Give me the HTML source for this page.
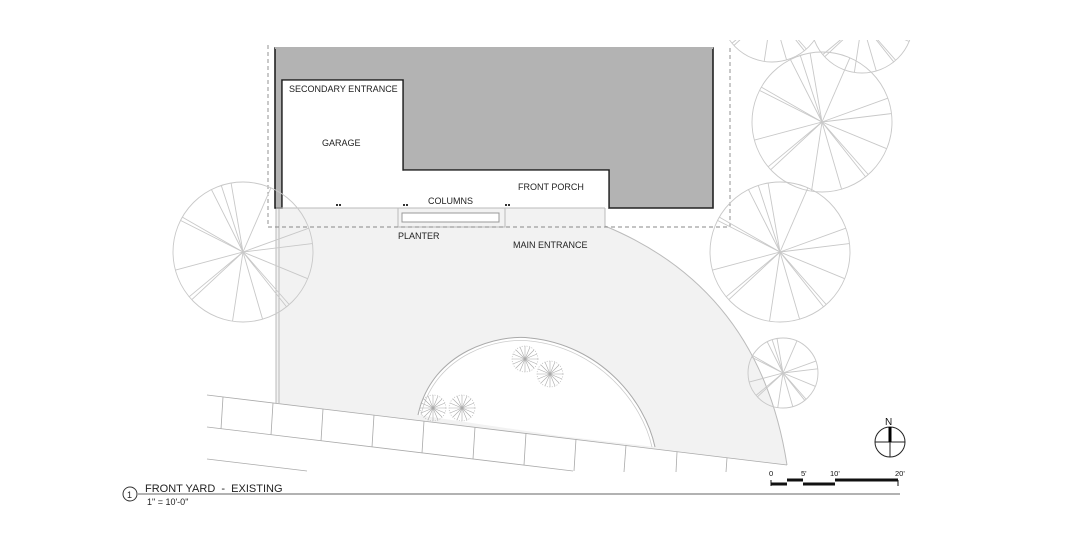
<!DOCTYPE html>
<html><head><meta charset="utf-8"><style>
html,body{margin:0;padding:0;background:#fff;}
svg{display:block;font-family:"Liberation Sans",Arial,sans-serif;}
.v{vector-effect:non-scaling-stroke;}
</style></head><body>
<svg width="1080" height="560" viewBox="0 0 1080 560" xmlns="http://www.w3.org/2000/svg">
<defs>
<g id="sp" stroke="#c8c8c8" stroke-width="0.9" fill="none">
<circle class="v" r="1" cx="0" cy="0" fill="none"/>
<line class="v" x1="0" y1="0" x2="-0.17" y2="-0.985"/>
<line class="v" x1="0" y1="0" x2="-0.31" y2="-0.95"/>
<line class="v" x1="0" y1="0" x2="-0.45" y2="-0.89"/>
<line class="v" x1="0" y1="0" x2="-0.87" y2="-0.5"/>
<line class="v" x1="0" y1="0" x2="-0.89" y2="-0.45"/>
<line class="v" x1="0" y1="0" x2="-0.97" y2="0.26"/>
<line class="v" x1="0" y1="0" x2="-0.77" y2="0.64"/>
<line class="v" x1="0" y1="0" x2="-0.73" y2="0.68"/>
<line class="v" x1="0" y1="0" x2="-0.15" y2="0.99"/>
<line class="v" x1="0" y1="0" x2="0.28" y2="0.96"/>
<line class="v" x1="0" y1="0" x2="0.62" y2="0.78"/>
<line class="v" x1="0" y1="0" x2="0.66" y2="0.75"/>
<line class="v" x1="0" y1="0" x2="0.92" y2="0.38"/>
<line class="v" x1="0" y1="0" x2="0.99" y2="-0.12"/>
<line class="v" x1="0" y1="0" x2="0.94" y2="-0.34"/>
<line class="v" x1="0" y1="0" x2="0.4" y2="-0.92"/>
</g>
<g id="sh" stroke="#aaa" stroke-width="0.6">
<line x1="-13" y1="0" x2="13" y2="0"/><line x1="0" y1="-13" x2="0" y2="13"/>
<line x1="-9" y1="-9" x2="9" y2="9"/><line x1="-9" y1="9" x2="9" y2="-9"/>
<line x1="-12" y1="-5" x2="12" y2="5"/><line x1="-12" y1="5" x2="12" y2="-5"/>
<line x1="-5" y1="-12" x2="5" y2="12"/><line x1="-5" y1="12" x2="5" y2="-12"/>
<circle r="13" fill="none" stroke-dasharray="1 1.5"/>
</g>
</defs>

<path d="M276,208 L605,208 L605,226 Q760,290 787,465 L276,403 Z" fill="#f2f2f2" stroke="none"/>
<path d="M605,226 Q760,290 787,465" fill="none" stroke="#bbb" stroke-width="1"/>
<line x1="276" y1="208" x2="276" y2="403" stroke="#bbb"/>
<line x1="279" y1="208" x2="279" y2="403" stroke="#bbb"/>
<path d="M418,415 C432,350 500,334 530,338 C600,345 645,400 655,447 L560,436 Z" fill="#fff"/>
<path d="M418,415 C432,350 500,334 530,338 C600,345 645,400 655,447" fill="none" stroke="#aaa" stroke-width="1"/>
<path d="M421,415 C435,353 500,337 530,341 C598,348 642,402 652,447" fill="none" stroke="#ccc" stroke-width="0.8"/>
<g stroke="#aaa" stroke-width="0.8">
<line x1="207" y1="395" x2="787" y2="465"/>
<line x1="207" y1="427" x2="573" y2="471"/>
<line x1="207" y1="459" x2="307" y2="471"/>
<line x1="223" y1="397" x2="221" y2="429"/>
<line x1="273" y1="403" x2="271" y2="435"/>
<line x1="323" y1="409" x2="321" y2="441"/>
<line x1="374" y1="415" x2="372" y2="447"/>
<line x1="424" y1="421" x2="422" y2="453"/>
<line x1="475" y1="427" x2="473" y2="459"/>
<line x1="526" y1="433" x2="524" y2="465"/>
<line x1="576" y1="439" x2="574" y2="471"/>
<line x1="626" y1="445" x2="624" y2="472"/>
<line x1="677" y1="452" x2="676" y2="472"/>
<line x1="727" y1="458" x2="726" y2="472"/>
</g>
<use href="#sh" x="525" y="359"/><use href="#sh" x="550" y="374"/>
<use href="#sh" x="433" y="408"/><use href="#sh" x="462" y="408"/>

<path d="M275,48 L713,48 L713,208 L609,208 L609,170 L403,170 L403,80 L282,80 L282,208 L275,208 Z" fill="#b3b3b3" stroke="#222" stroke-width="1.6"/>
<line x1="275" y1="48" x2="713" y2="48" stroke="#b3b3b3" stroke-width="2"/>
<rect x="282.8" y="80.8" width="119.4" height="127.2" fill="#fff"/>
<rect x="403.8" y="170.8" width="204.4" height="37.2" fill="#fff"/>
<line x1="276" y1="208" x2="605" y2="208" stroke="#bbb"/>
<line x1="605" y1="208" x2="605" y2="226" stroke="#bbb"/>
<rect x="398" y="208" width="107" height="19" fill="#f2f2f2" stroke="#bbb"/>
<rect x="402" y="213" width="97" height="9" fill="#fff" stroke="#999"/>
<g fill="#333"><rect x="336" y="204" width="2" height="2"/><rect x="339" y="204" width="2" height="2"/>
<rect x="403" y="204" width="2" height="2"/><rect x="406" y="204" width="2" height="2"/>
<rect x="505" y="204" width="2" height="2"/><rect x="508" y="204" width="2" height="2"/></g>
<path d="M268,45 L268,227 L730,227 L730,45" fill="none" stroke="#888" stroke-width="0.9" stroke-dasharray="4 3"/>

<use href="#sp" transform="translate(243,252) scale(70)"/>
<use href="#sp" transform="translate(822,122) scale(70)"/>
<use href="#sp" transform="translate(780,252) scale(70)"/>
<use href="#sp" transform="translate(783,373) scale(35)"/>
<use href="#sp" transform="translate(772,10) scale(52)"/>
<use href="#sp" transform="translate(862,22) scale(51)"/>
<rect x="0" y="0" width="1080" height="40" fill="#fff"/>

<g font-size="9" fill="#222">
<text x="289" y="92">SECONDARY ENTRANCE</text>
<text x="322" y="146">GARAGE</text>
<text x="518" y="190">FRONT PORCH</text>
<text x="428" y="204">COLUMNS</text>
<text x="398" y="239">PLANTER</text>
<text x="513" y="248">MAIN ENTRANCE</text>
</g>

<circle cx="890" cy="442" r="15" fill="none" stroke="#222" stroke-width="1"/>
<line x1="875" y1="442" x2="905" y2="442" stroke="#222"/>
<line x1="890" y1="427" x2="890" y2="457" stroke="#222"/>
<line x1="890" y1="427" x2="890" y2="442" stroke="#000" stroke-width="3"/>
<text x="885" y="425" font-size="10" fill="#111">N</text>
<g fill="#111" font-size="7.5">
<text x="769" y="476">0</text><text x="801" y="476">5'</text><text x="830" y="476">10'</text><text x="895" y="476">20'</text>
</g>
<g stroke="#111">
<line x1="771" y1="480" x2="771" y2="486"/>
<line x1="898" y1="480" x2="898" y2="486"/>
<line x1="771" y1="484" x2="787" y2="484" stroke-width="3"/>
<line x1="787" y1="480" x2="803" y2="480" stroke-width="3"/>
<line x1="803" y1="484" x2="835" y2="484" stroke-width="3"/>
<line x1="835" y1="480" x2="898" y2="480" stroke-width="3"/>
</g>
<line x1="138" y1="494" x2="900" y2="494" stroke="#666" stroke-width="1"/>
<circle cx="130" cy="494" r="7" fill="#fff" stroke="#333"/>
<text x="127" y="498" font-size="9" fill="#222">1</text>
<text x="145" y="492" font-size="11" fill="#222">FRONT YARD &#160;- &#160;EXISTING</text>
<text x="147" y="505" font-size="9" fill="#222">1" = 10'-0"</text>
</svg>
</body></html>
